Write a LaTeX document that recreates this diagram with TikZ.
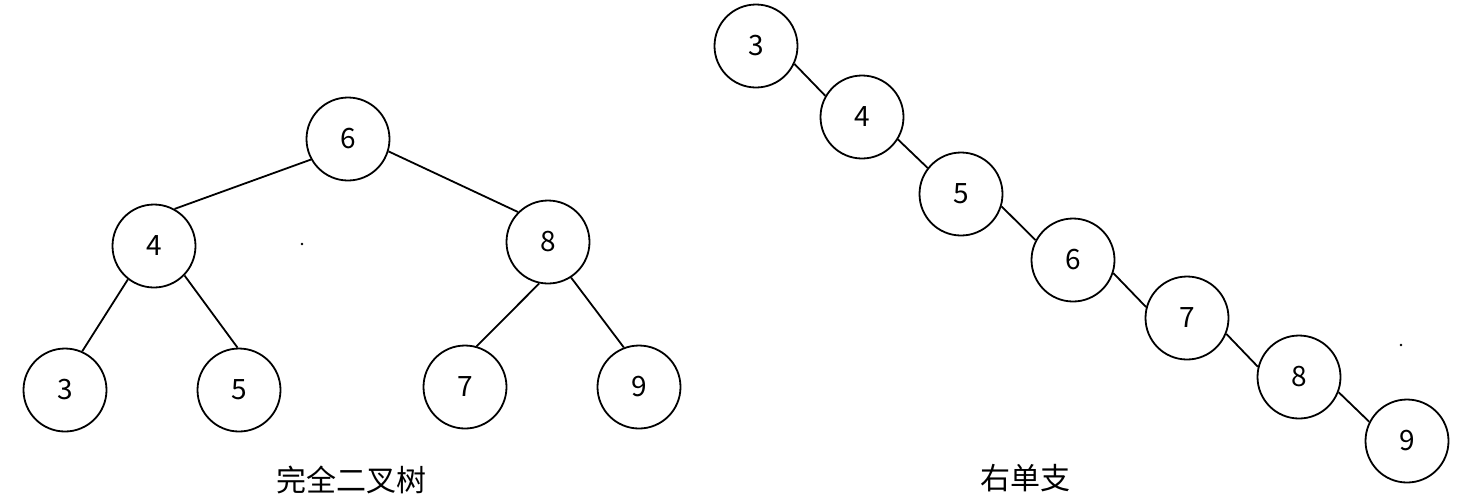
\documentclass[tikz,border=0pt]{standalone}
\usepackage{fontspec}
\setmainfont{Noto Sans CJK SC}

\begin{document}
\begin{tikzpicture}[x=0.5pt,y=-0.5pt,
  vertex/.style={circle,draw,line width=0.9pt,minimum size=41.5pt,inner sep=0pt,font=\fontsize{14}{14}\selectfont},
  edge/.style={line width=0.9pt},
  speck/.style={circle,fill,inner sep=0pt,minimum size=1.3pt}]
\useasboundingbox (0,0) rectangle (1466,500);
\node[vertex] (l6) at (348,139) {6};
\node[vertex] (l4) at (154,246) {4};
\node[vertex] (l8) at (548,242) {8};
\node[vertex] (l3) at (65,390) {3};
\node[vertex] (l5) at (239,390) {5};
\node[vertex] (l7) at (465,387) {7};
\node[vertex] (l9) at (639,387) {9};
\draw[edge] (l6.209)--(l4.61);
\draw[edge] (l6.-17)--(l8.135);
\draw[edge] (l4.232)--(l3.66);
\draw[edge] (l4.-44)--(l5.92);
\draw[edge] (l8.258)--(l7.74);
\draw[edge] (l8.-57)--(l9.111);
\node[speck] (ldot) at (302,244) {};
\node[font=\fontsize{15}{15}\selectfont] (ltitle) at (351,480) {完全二叉树};
\foreach \v/\x/\y in {3/756/46,4/862/117,5/961/194,6/1073/260,7/1187/318,8/1299/377,9/1407/441}
  \node[vertex] (r\v) at (\x,\y) {\v};
\foreach \a/\b/\p/\q in {3/4/-25/150,4/5/-32/142,5/6/-17/152,6/7/-18/165,7/8/-22/166,8/9/-21/153}
  \draw[edge] (r\a.\p)--(r\b.\q);
\node[speck] (rdot) at (1401,345) {};
\node[font=\fontsize{15}{15}\selectfont] (rtitle) at (1025,478) {右单支};
\end{tikzpicture}
\end{document}
